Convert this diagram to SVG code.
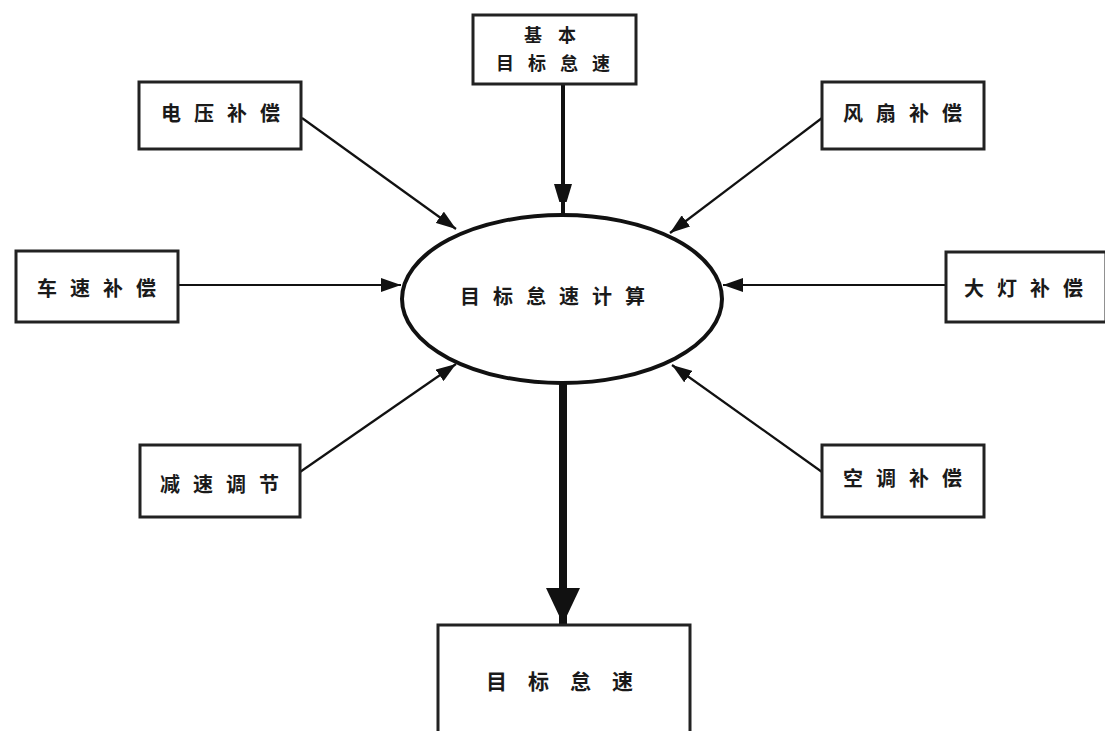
<svg xmlns="http://www.w3.org/2000/svg" width="1105" height="731" viewBox="0 0 1105 731">
  <style>
    .box { fill: #fff; stroke: #222; stroke-width: 3; }
    .lbl { font-family: "Noto Sans CJK SC", "Noto Sans", sans-serif; font-weight: bold; font-size: 20px; fill: #1a1a1a; text-anchor: middle; dominant-baseline: central; letter-spacing: 13px; }
    .link { stroke: #111; stroke-width: 2.2; fill: none; }
  </style>
  <defs>
    <marker id="arr" markerWidth="22" markerHeight="14" refX="20" refY="7" orient="auto" markerUnits="userSpaceOnUse">
      <path d="M0,0 L20,7 L0,14 Z" fill="#111"/>
    </marker>
    <marker id="arrMid" markerWidth="18" markerHeight="32" refX="30" refY="9" orient="auto" markerUnits="userSpaceOnUse">
      <path d="M0,0 L30,9 L0,18 Z" fill="#111"/>
    </marker>
    <marker id="arrBig" markerWidth="40" markerHeight="34" refX="36" refY="17" orient="auto" markerUnits="userSpaceOnUse">
      <path d="M0,0 L36,17 L0,34 Z" fill="#111"/>
    </marker>
  </defs>
  <rect width="1105" height="731" fill="#fff"/>

  <g id="connectors">
    <line class="link" x1="563" y1="85" x2="563" y2="214" style="stroke-width:4" marker-end="url(#arrMid)"/>
    <line class="link" x1="302" y1="118" x2="456" y2="229" marker-end="url(#arr)"/>
    <line class="link" x1="822" y1="118" x2="670" y2="233" marker-end="url(#arr)"/>
    <line class="link" x1="178" y1="285" x2="401" y2="285" marker-end="url(#arr)"/>
    <line class="link" x1="946" y1="285" x2="723" y2="285" marker-end="url(#arr)"/>
    <line class="link" x1="300" y1="472" x2="456" y2="364" marker-end="url(#arr)"/>
    <line class="link" x1="822" y1="472" x2="672" y2="365" marker-end="url(#arr)"/>
    <line class="link" x1="563" y1="383" x2="563" y2="624" style="stroke-width:8" marker-end="url(#arrBig)"/>
  </g>

  <g id="node-base">
    <rect class="box" x="473" y="15" width="163" height="69"/>
    <text class="lbl" x="558" y="34" style="font-size:18px;letter-spacing:16px">基本</text>
    <text class="lbl" x="560" y="62" style="font-size:18px;letter-spacing:14px">目标怠速</text>
  </g>

  <g id="node-voltage">
    <rect class="box" x="139" y="82" width="162" height="67"/>
    <text class="lbl" x="227" y="112">电压补偿</text>
  </g>

  <g id="node-fan">
    <rect class="box" x="822" y="82" width="162" height="67"/>
    <text class="lbl" x="909" y="112">风扇补偿</text>
  </g>

  <g id="node-speed">
    <rect class="box" x="16" y="251" width="162" height="71"/>
    <text class="lbl" x="103" y="287">车速补偿</text>
  </g>

  <g id="node-lamp">
    <rect class="box" x="946" y="252" width="160" height="70"/>
    <text class="lbl" x="1030" y="287">大灯补偿</text>
  </g>

  <g id="node-decel">
    <rect class="box" x="140" y="445" width="160" height="72"/>
    <text class="lbl" x="226" y="483">减速调节</text>
  </g>

  <g id="node-ac">
    <rect class="box" x="822" y="445" width="162" height="72"/>
    <text class="lbl" x="909" y="477">空调补偿</text>
  </g>

  <g id="node-calc">
    <ellipse cx="562" cy="299" rx="160" ry="84" fill="#fff" stroke="#111" stroke-width="4"/>
    <text class="lbl" x="559" y="295">目标怠速计算</text>
  </g>

  <g id="node-result">
    <rect class="box" x="438" y="625" width="252" height="120"/>
    <text class="lbl" x="570" y="680" style="font-size:21px;letter-spacing:21px">目标怠速</text>
  </g>
</svg>
